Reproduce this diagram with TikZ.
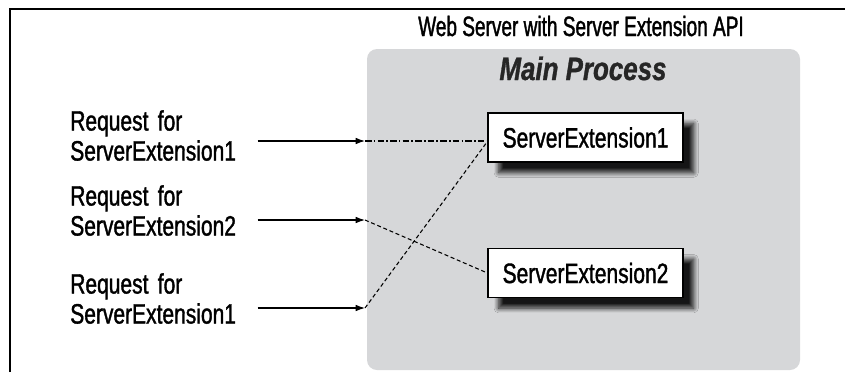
\documentclass[tikz,border=0pt]{standalone}
\usepackage{fontspec}
\setmainfont{Liberation Sans}[FakeStretch=0.75,FakeBold=1.3]
\newfontfamily\titlefont{Liberation Sans}[FakeStretch=0.68,FakeBold=1.3]
\newfontfamily\procfont{Liberation Sans}[FakeStretch=0.8,FakeBold=1]
\usetikzlibrary{arrows.meta,shadows.blur}
\definecolor{procgrey}{RGB}{214,215,217}

\begin{document}
\begin{tikzpicture}[x=0.75pt,y=-0.75pt,
  reqlabel/.style={anchor=north west,inner sep=0pt,text width=140.25pt,align=left,font=\fontsize{21}{22.5}\selectfont},
  extbox/.style={draw,line width=0.9pt,fill=white,minimum width=146.25pt,minimum height=36.75pt,inner sep=0pt,font=\fontsize{21}{22.5}\selectfont,
    blur shadow={shadow xshift=8pt,shadow yshift=-8pt,shadow blur radius=3.5pt,shadow opacity=90,shadow blur steps=10}},
  reqarrow/.style={-{Latex[length=7pt,width=5pt]},line width=0.9pt},
  dashdot/.style={line width=0.8pt,dash pattern=on 5pt off 1.6pt on 1.2pt off 1.6pt},
  dashline/.style={line width=0.8pt,dash pattern=on 3pt off 2pt}]
 \useasboundingbox (0,0) rectangle (845,372);
 \draw[line width=2.2pt] (10,372) -- (10,9) -- (845,9);
 \node[anchor=base,font=\fontsize{21}{22}\titlefont] (title) at (581,36) {Web Server with Server Extension API};
 \fill[procgrey,rounded corners=7.5pt] (367,49) rectangle (800,370);
 \node[anchor=base,font=\fontsize{24.3}{26}\procfont\bfseries\itshape,text=black!85] (main) at (583,80) {Main Process};
 \node[extbox] (se1) at (585.5,137.5) {ServerExtension1};
 \node[extbox] (se2) at (585.5,273) {ServerExtension2};
 \node[reqlabel] (rq1) at (70,110) {Request for\\ServerExtension1};
 \node[reqlabel] (rq2) at (70,185) {Request for\\ServerExtension2};
 \node[reqlabel] (rq3) at (70,273) {Request for\\ServerExtension1};
 \coordinate (in1) at (365,141); \coordinate (in2) at (365,220); \coordinate (in3) at (365,308);
 \draw[reqarrow] (in1 -| rq1.east) -- (in1);
 \draw[reqarrow] (in2 -| rq2.east) -- (in2);
 \draw[reqarrow] (in3 -| rq3.east) -- (in3);
 \draw[dashdot] (in1) -- (in1 -| se1.west);
 \draw[dashline] (in2) -- (se2.west);
 \draw[dashline] (in3) -- ([yshift=-3pt]se1.west);
\end{tikzpicture}
\end{document}
